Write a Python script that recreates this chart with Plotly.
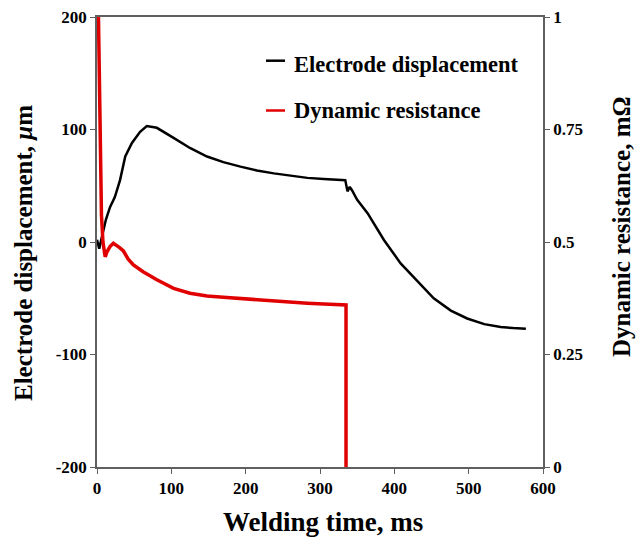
import plotly.graph_objects as go

# Electrode displacement (um) vs welding time (ms)
t_disp = [0, 2, 3, 5, 8.5, 12, 17.5, 24, 31, 38, 47, 58, 67, 80.5, 103, 125, 148, 170,
          193, 215, 238, 260, 283, 305, 334, 337, 340, 343, 350, 364, 386, 408.5, 431,
          453, 476, 498, 521, 543, 560, 577]
disp = [2, -5, -6, 0, 11, 20, 31, 40, 55, 76, 88, 98, 103, 101.5, 92.6, 83.6, 76, 71,
        67, 63.6, 61, 59, 57, 56, 55, 45, 49, 46, 37.5, 25.6, 1.8, -19, -35,
        -50, -61, -68, -73, -75.6, -76.5, -77]

# Dynamic resistance (mOhm) vs welding time (ms)
t_res = [1.5, 3, 4, 5, 6, 8, 11, 14, 17.5, 22, 26.5, 30, 35.5, 42, 49, 62, 80.5, 103,
         125, 148, 170, 193, 215, 238, 260, 283, 305, 334, 335, 335]
res = [1.05, 0.9, 0.8, 0.66, 0.56, 0.5, 0.467, 0.48, 0.49, 0.497, 0.493, 0.488, 0.48,
       0.462, 0.449, 0.434, 0.416, 0.397, 0.386, 0.38, 0.377, 0.374, 0.371, 0.369,
       0.367, 0.364, 0.362, 0.36, 0.36, 0.0]

x_ticks = [0, 100, 200, 300, 400, 500, 600]
y_ticks = [-200, -100, 0, 100, 200]
y2_ticks = [0, 0.25, 0.5, 0.75, 1]
y2_labels = ["0", "0.25", "0.5", "0.75", "1"]

FONT = "Liberation Serif"
tickfont = dict(family=FONT, size=17, color="black")


def bold(items):
    return ["<b>%s</b>" % s for s in items]


fig = go.Figure()
fig.add_trace(go.Scatter(x=t_disp, y=disp, mode="lines", name="Electrode displacement",
                         line=dict(color="black", width=2.5), yaxis="y"))
fig.add_trace(go.Scatter(x=t_res, y=res, mode="lines", name="Dynamic resistance",
                         line=dict(color="#e00000", width=3.5), yaxis="y2"))

axis_line = dict(showline=True, linecolor="#606060", linewidth=1.5, showgrid=False,
                 zeroline=False, ticks="outside", ticklen=5, tickcolor="#606060",
                 tickfont=tickfont, automargin=False)

fig.update_layout(
    width=637, height=540,
    margin=dict(l=97, r=94, t=17, b=73),
    plot_bgcolor="white", paper_bgcolor="white",
    showlegend=False,
    xaxis=dict(range=[0, 600], tickvals=x_ticks, ticktext=bold(x_ticks), mirror=True,
               **axis_line),
    yaxis=dict(range=[-200, 200], tickvals=y_ticks, ticktext=bold(y_ticks),
               **axis_line),
    yaxis2=dict(range=[0, 1], tickvals=y2_ticks, ticktext=bold(y2_labels), overlaying="y",
                side="right", **axis_line),
)

# x axis title
fig.add_annotation(text="<b>Welding time, ms</b>", xref="paper", yref="paper",
                   x=(323 - 97) / 446, y=(467 - 522) / 450,
                   showarrow=False, xanchor="center", yanchor="middle",
                   font=dict(family=FONT, size=27, color="black"))

# left axis title
fig.add_annotation(text="<b>Electrode displacement, <i>μ</i>m</b>", xref="paper", yref="paper",
                   x=(23 - 97) / 446, y=(467 - 253) / 450, textangle=-90,
                   showarrow=False, xanchor="center", yanchor="middle",
                   font=dict(family=FONT, size=25, color="black"))

# right axis title
fig.add_annotation(text="<b>Dynamic resistance, mΩ</b>", xref="paper", yref="paper",
                   x=(621 - 97) / 446, y=(467 - 227) / 450, textangle=-90,
                   showarrow=False, xanchor="center", yanchor="middle",
                   font=dict(family=FONT, size=25, color="black"))

# manual legend
legend_items = [("Electrode displacement", "black", 60.7, 64),
                ("Dynamic resistance", "#e00000", 110.5, 110)]
for label, color, ly, ty in legend_items:
    fig.add_shape(type="line", xref="paper", yref="paper",
                  x0=(266 - 97) / 446, x1=(285 - 97) / 446,
                  y0=(467 - ly) / 450, y1=(467 - ly) / 450,
                  line=dict(color=color, width=2.5))
    fig.add_annotation(text="<b>%s</b>" % label, xref="paper", yref="paper",
                       x=(292 - 97) / 446, y=(467 - ty) / 450, showarrow=False,
                       xanchor="left", yanchor="middle",
                       font=dict(family=FONT, size=22.5, color="black"))

fig.write_html("out.html")
